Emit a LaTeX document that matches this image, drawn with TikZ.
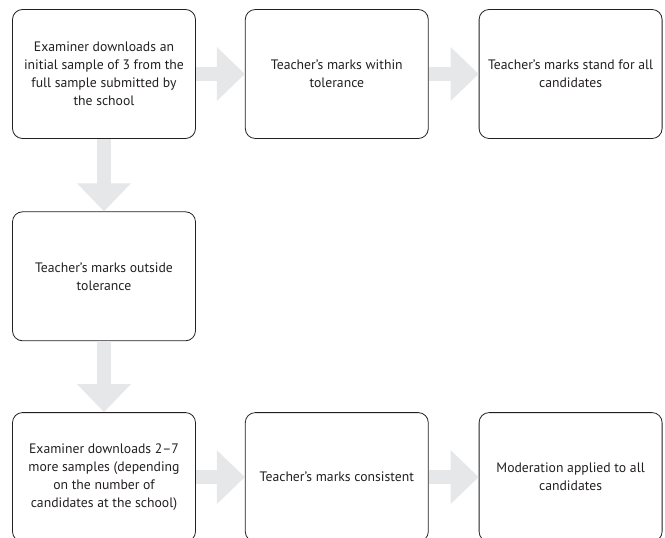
\documentclass[tikz,border=0pt]{standalone}
\usepackage{fontspec}
\setmainfont{PT Sans}
\usepackage{tikz}
\usetikzlibrary{arrows.meta, positioning}
\definecolor{boxline}{HTML}{231F20}
\definecolor{arrowgrey}{HTML}{E6E7E8}

\begin{document}
\begin{tikzpicture}[
    every node/.style={font=\fontsize{13.7}{18}\selectfont},
    stepbox/.style={rectangle, rounded corners=10pt, draw=boxline, line width=0.8pt, minimum width=183pt, minimum height=129pt, align=center, text=boxline},
    arrow/.style={-{Triangle[length=28pt, width=52pt]}, line width=14pt, draw=arrowgrey}
]
\useasboundingbox (0,0) rectangle (665pt,-538pt);

\node (initial) [stepbox] at (104pt,-74pt) {Examiner downloads an\\initial sample of 3 from the\\full sample submitted by\\the school};
\node (within) [stepbox, right=49pt of initial] {Teacher’s marks within\\tolerance};
\node (stand) [stepbox, right=50pt of within] {Teacher’s marks stand for all\\candidates};
\node (outside) [stepbox, below=72.5pt of initial] {Teacher’s marks outside\\tolerance};
\node (more) [stepbox, below=71pt of outside] {Examiner downloads 2–7\\more samples (depending\\on the number of\\candidates at the school)};
\node (consistent) [stepbox, right=49pt of more] {Teacher’s marks consistent};
\node (applied) [stepbox, right=50pt of consistent] {Moderation applied to all\\candidates};

\draw [arrow] (initial) -- (within);
\draw [arrow] (within) -- (stand);
\draw [arrow] (initial) -- (outside);
\draw [arrow] (outside) -- (more);
\draw [arrow] (more) -- (consistent);
\draw [arrow] (consistent) -- (applied);
\end{tikzpicture}
\end{document}
